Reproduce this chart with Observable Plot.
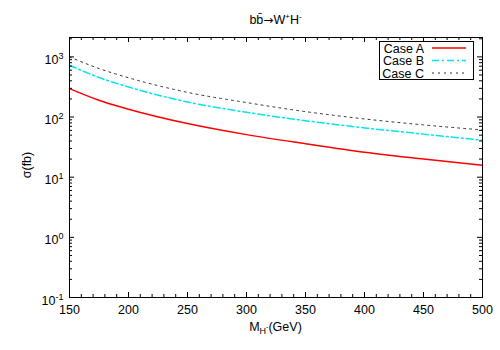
<!DOCTYPE html>
<html>
<head>
<meta charset="utf-8">
<script src="https://cdn.jsdelivr.net/npm/d3@7"></script>
<script src="https://cdn.jsdelivr.net/npm/@observablehq/plot@0.6"></script>
<style>
  html, body { margin: 0; padding: 0; background: #fff; }
  #chart svg { display: block; }
</style>
</head>
<body>
<div id="chart"></div>
<script>
// ---- data ----
const mass  = [150, 175, 200, 250, 300, 350, 400, 450, 500];
const caseA = [297, 190, 135, 78, 51, 36, 26, 20, 15.8];
const caseB = [728, 454, 316, 178, 120, 87, 66, 52, 41];
const caseC = [1000, 640, 450, 257, 174, 123, 93, 74, 61];
const seriesNames = ["Case A", "Case B", "Case C"];
const xTickValues = [150, 200, 250, 300, 350, 400, 450, 500];
const yTickValues = [0.1, 1, 10, 100, 1000];

// ---- styles ----
const styles = {
  "Case A": {stroke: "#ff0000", strokeWidth: 1.5, dash: null},
  "Case B": {stroke: "#00e5ee", strokeWidth: 1.5, dash: "7,3,2,3"},
  "Case C": {stroke: "#333333", strokeWidth: 1, dash: "2,4"}
};

const W = 500, H = 350;
const mL = 69, mR = 18, mT = 37, mB = 53;
const pw = W - mL - mR, ph = H - mT - mB;
const font = "'Liberation Sans', Arial, Helvetica, sans-serif";

const series = [caseA, caseB, caseC];
const rows = [];
seriesNames.forEach((name, i) => mass.forEach((m, j) => rows.push({mass: m, sigma: series[i][j], series: name})));

const xMinor = d3.range(150, 501, 10).filter(v => !xTickValues.includes(v));
const yMinor = [];
for (let e = -1; e <= 3; e++) for (let k = 2; k <= 9; k++) { const v = k * Math.pow(10, e); if (v <= 2100) yMinor.push(v); }

const lineMarks = seriesNames.map(name => Plot.line(rows.filter(r => r.series === name), {
  x: "mass", y: "sigma", stroke: styles[name].stroke, strokeWidth: styles[name].strokeWidth,
  strokeDasharray: styles[name].dash, curve: "monotone-x"
}));

const chart = Plot.plot({
  width: W, height: H,
  marginLeft: mL, marginRight: mR, marginTop: mT, marginBottom: mB,
  style: {fontFamily: font, fontSize: "12.5px", background: "#fff", color: "#000"},
  x: {domain: [150, 500]},
  y: {type: "log", domain: [0.1, 2100]},
  marks: [
    ...lineMarks,
    // inward ticks, all four sides
    Plot.ruleX(xTickValues, {insetTop: ph - 5, stroke: "#000"}),
    Plot.ruleX(xTickValues, {insetBottom: ph - 5, stroke: "#000"}),
    Plot.ruleX(xMinor, {insetTop: ph - 3, stroke: "#000"}),
    Plot.ruleX(xMinor, {insetBottom: ph - 3, stroke: "#000"}),
    Plot.ruleY(yTickValues, {insetRight: pw - 5, stroke: "#000"}),
    Plot.ruleY(yTickValues, {insetLeft: pw - 5, stroke: "#000"}),
    Plot.ruleY(yMinor, {insetRight: pw - 3, stroke: "#000"}),
    Plot.ruleY(yMinor, {insetLeft: pw - 3, stroke: "#000"}),
    Plot.axisX({ticks: xTickValues, tickSize: 0, tickPadding: 8, label: null, tickFormat: d => String(d)}),
    Plot.axisY({ticks: yTickValues, tickSize: 0, tickPadding: 6, label: null, dy: 3,
      tickFormat: d => "10^" + Math.round(Math.log10(d))}),
    Plot.frame({stroke: "#000", strokeWidth: 1})
  ]
});

document.getElementById("chart").appendChild(chart);
const svg = d3.select(chart);

// superscripts for y tick labels
svg.selectAll('g[aria-label="y-axis tick label"] text').each(function() {
  const t = d3.select(this);
  const parts = t.text().split("^");
  t.text(parts[0]);
  t.append("tspan").attr("dy", -5).attr("font-size", "9px").text(parts[1]);
});

// title
const title = svg.append("text").attr("x", mL + pw / 2).attr("y", 24)
  .attr("text-anchor", "middle").attr("font-family", font).attr("font-size", "12.5px");
title.append("tspan").text("bb\u0304");
title.append("tspan").attr("font-family", "'DejaVu Sans', sans-serif").attr("font-size", "12px").text("\u2192");
title.append("tspan").text("W");
title.append("tspan").attr("dy", -5).attr("font-size", "8px").text("+");
title.append("tspan").attr("dy", 5).text("H");
title.append("tspan").attr("dy", -5).attr("font-size", "8px").text("-");

// x label
const xl = svg.append("text").attr("x", mL + pw / 2).attr("y", 331)
  .attr("text-anchor", "middle").attr("font-family", font).attr("font-size", "12.5px");
xl.append("tspan").text("M");
xl.append("tspan").attr("dy", 3).attr("font-size", "9px").text("H");
xl.append("tspan").attr("dy", -5).attr("font-size", "7px").text("-");
xl.append("tspan").attr("dy", 2).text("(GeV)");

// y label
svg.append("text").attr("transform", `translate(31,${mT + ph / 2 - 2}) rotate(-90)`)
  .attr("text-anchor", "middle").attr("font-family", font).attr("font-size", "12.5px")
  .text("\u03c3(fb)");

// legend
const lg = svg.append("g");
lg.append("rect").attr("x", 379.5).attr("y", 41.5).attr("width", 94).attr("height", 38)
  .attr("fill", "#fff").attr("stroke", "#000");
seriesNames.forEach((name, i) => {
  const cy = 48 + i * 12.5;
  lg.append("text").attr("x", 424).attr("y", cy + 4.5).attr("text-anchor", "end")
    .attr("font-family", font).attr("font-size", "12.5px").text(name);
  lg.append("line").attr("x1", 432).attr("x2", 466).attr("y1", cy).attr("y2", cy)
    .attr("stroke", styles[name].stroke).attr("stroke-width", styles[name].strokeWidth)
    .attr("stroke-dasharray", styles[name].dash);
});
</script>
</body>
</html>
